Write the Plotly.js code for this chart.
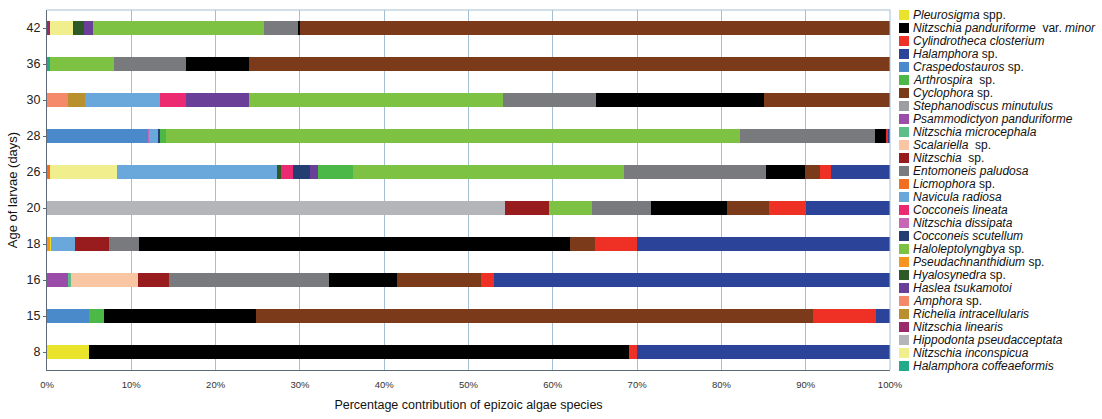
<!DOCTYPE html>
<html>
<head>
<meta charset="utf-8">
<script src="https://cdn.plot.ly/plotly-3.0.1.min.js"></script>
<style>html,body{margin:0;padding:0;background:#fff;}#chart{width:1102px;height:419px;}</style>
</head>
<body>
<div id="chart"></div>
<script>
// Ages of larvae (days), bottom to top
const ages = ['8', '15', '16', '18', '20', '26', '28', '30', '36', '42'];

// Percent contribution per species, in the order of ages above
const pleurosigma       = [4.95, 0, 0, 0.2, 0, 0, 0, 0, 0, 0];
const nPanduriforme     = [64.05, 18.05, 8.0, 51.05, 9.05, 4.6, 1.3, 20.0, 7.55, 0.2];
const cylindrotheca     = [1.0, 7.5, 1.5, 4.95, 4.35, 1.3, 0.3, 0, 0, 0];
const halamphora        = [30.0, 1.65, 47.0, 30.0, 9.95, 7.0, 0.2, 0, 0, 0];
const craspedostauros   = [0, 4.95, 0, 0, 0, 0, 12.0, 0, 0, 0];
const arthrospira       = [0, 1.8, 0, 0, 0, 4.15, 0.7, 0, 0, 0];
const cyclophora        = [0, 66.05, 10.0, 3.05, 5.0, 1.8, 0, 14.9, 76.0, 70.0];
const stephanodiscus    = [0, 0, 0, 0, 0, 0, 0, 0, 0, 0];
const psammodictyon     = [0, 0, 2.45, 0, 0, 0, 0, 0, 0, 0];
const nMicrocephala     = [0, 0, 0.45, 0, 0, 0, 0, 0, 0, 0];
const scalariella       = [0, 0, 7.95, 0, 0, 0, 0, 0, 0, 0];
const nitzschiaSp       = [0, 0, 3.65, 4.1, 5.25, 0, 0, 0, 0, 0];
const entomoneis        = [0, 0, 19.0, 3.55, 7.0, 16.9, 16.0, 11.0, 8.45, 4.0];
const licmophora        = [0, 0, 0, 0, 0, 0.3, 0, 0, 0, 0];
const navicula          = [0, 0, 0, 2.8, 0, 19.05, 1.05, 9.0, 0, 0];
const cLineata          = [0, 0, 0, 0, 0, 1.5, 0, 3.05, 0, 0];
const nDissipata        = [0, 0, 0, 0, 0, 0, 0.15, 0, 0, 0];
const cScutellum        = [0, 0, 0, 0, 0, 1.95, 0.2, 0, 0, 0];
const haloleptolyngbya  = [0, 0, 0, 0, 5.05, 32.1, 68.1, 30.1, 7.7, 20.35];
const pseudachnanthidium= [0, 0, 0, 0.3, 0, 0, 0, 0, 0, 0];
const hyalosynedra      = [0, 0, 0, 0, 0, 0.4, 0, 0, 0, 1.3];
const haslea            = [0, 0, 0, 0, 0, 1.0, 0, 7.5, 0, 1.05];
const amphora           = [0, 0, 0, 0, 0, 0, 0, 2.5, 0, 0];
const richelia          = [0, 0, 0, 0, 0, 0, 0, 1.95, 0, 0];
const nLinearis         = [0, 0, 0, 0, 0, 0, 0, 0, 0, 0.3];
const hippodonta        = [0, 0, 0, 0, 54.35, 0, 0, 0, 0, 0];
const nInconspicua      = [0, 0, 0, 0, 0, 7.95, 0, 0, 0, 2.8];
const hCoffeaeformis    = [0, 0, 0, 0, 0, 0, 0, 0, 0.3, 0];

// Legend order (top to bottom)
const speciesNames = [
  '<i>Pleurosigma</i> spp.',
  '<i>Nitzschia panduriforme</i>  var. <i>minor</i>',
  '<i>Cylindrotheca closterium</i>',
  '<i>Halamphora</i> sp.',
  '<i>Craspedostauros</i> sp.',
  '<i>Arthrospira</i>  sp.',
  '<i>Cyclophora</i> sp.',
  '<i>Stephanodiscus minutulus</i>',
  '<i>Psammodictyon panduriforme</i>',
  '<i>Nitzschia microcephala</i>',
  '<i>Scalariella</i>  sp.',
  '<i>Nitzschia</i>  sp.',
  '<i>Entomoneis paludosa</i>',
  '<i>Licmophora</i> sp.',
  '<i>Navicula radiosa</i>',
  '<i>Cocconeis lineata</i>',
  '<i>Nitzschia dissipata</i>',
  '<i>Cocconeis scutellum</i>',
  '<i>Haloleptolyngbya</i> sp.',
  '<i>Pseudachnanthidium</i> sp.',
  '<i>Hyalosynedra</i> sp.',
  '<i>Haslea tsukamotoi</i>',
  '<i>Amphora</i> sp.',
  '<i>Richelia intracellularis</i>',
  '<i>Nitzschia linearis</i>',
  '<i>Hippodonta pseudacceptata</i>',
  '<i>Nitzschia inconspicua</i>',
  '<i>Halamphora coffeaeformis</i>'
];
const speciesValues = [
  pleurosigma, nPanduriforme, cylindrotheca, halamphora, craspedostauros, arthrospira,
  cyclophora, stephanodiscus, psammodictyon, nMicrocephala, scalariella, nitzschiaSp,
  entomoneis, licmophora, navicula, cLineata, nDissipata, cScutellum, haloleptolyngbya,
  pseudachnanthidium, hyalosynedra, haslea, amphora, richelia, nLinearis, hippodonta,
  nInconspicua, hCoffeaeformis
];
const speciesColors = [
  '#e9e32b', '#000000', '#ee3124', '#2b449a', '#4a8acb', '#4cb848',
  '#7b3a1a', '#9c9ea1', '#9b4ba8', '#5cbf8a', '#f8c6a2', '#981b1e',
  '#797a7d', '#f26f21', '#6aa8dc', '#ec2a72', '#c666b5', '#243d73',
  '#7dc242', '#f7941d', '#2d5a27', '#6a3f98', '#f58a6a', '#b8902e',
  '#9b2a6b', '#b3b5b8', '#f1ee8e', '#22a98a'
];

// Stacking order left to right (indices into the legend lists)
const stackOrder = [24, 22, 23, 8, 9, 27, 10, 13, 19, 0, 26, 25, 4, 16, 14, 11,
                    20, 15, 17, 21, 5, 18, 7, 12, 1, 6, 2, 3];

const traces = stackOrder.map(i => ({
  type: 'bar',
  orientation: 'h',
  name: speciesNames[i],
  y: ages,
  x: speciesValues[i],
  marker: {color: speciesColors[i], line: {width: 0}},
  width: 0.4,
  showlegend: false,
  hoverinfo: 'x+name'
}));

// Plot area: 47..890 px horizontally, 10..370 px vertically
const plotL = 47, plotR = 890, plotT = 10, plotB = 370;
const pxX = px => (px - plotL) / (plotR - plotL);
const pxY = py => (plotB - py) / (plotB - plotT);

const shapes = [
  {type: 'line', xref: 'paper', yref: 'paper', x0: 0, x1: 1, y0: 1, y1: 1,
   line: {color: '#a3bfd3', width: 1}},
  {type: 'line', xref: 'paper', yref: 'paper', x0: 1, x1: 1, y0: 0, y1: 1,
   line: {color: '#a3bfd3', width: 1}}
];
const annotations = [];
speciesNames.forEach((name, i) => {
  const cy = 15 + 13 * i;
  shapes.push({
    type: 'rect', xref: 'paper', yref: 'paper',
    x0: pxX(899), x1: pxX(909), y0: pxY(cy + 5), y1: pxY(cy - 5),
    fillcolor: speciesColors[i], line: {width: 0}
  });
  annotations.push({
    xref: 'paper', yref: 'paper', x: pxX(911), y: pxY(cy),
    xanchor: 'left', yanchor: 'middle', showarrow: false,
    text: name, font: {family: 'Liberation Sans, Arial, sans-serif', size: 12, color: '#111'}
  });
});

const layout = {
  width: 1102, height: 419,
  margin: {l: plotL, r: 1102 - plotR, t: plotT, b: 419 - plotB},
  paper_bgcolor: '#ffffff', plot_bgcolor: '#ffffff',
  barmode: 'stack',
  bargap: 0.6,
  showlegend: false,
  font: {family: 'Liberation Sans, Arial, sans-serif', color: '#222'},
  xaxis: {
    range: [0, 100], dtick: 10, tick0: 0, ticksuffix: '%',
    showgrid: true, gridcolor: '#a3bfd3', gridwidth: 1,
    zeroline: false, showline: true, linecolor: '#5e6a75', linewidth: 1,
    ticks: '', ticklabelstandoff: 6, tickfont: {size: 9.5, color: '#333'},
    title: {text: 'Percentage contribution of epizoic algae species', font: {size: 12.5, color: '#111'}, standoff: 10}
  },
  yaxis: {
    type: 'category', categoryorder: 'array', categoryarray: ages,
    showgrid: false, zeroline: false, showline: true, linecolor: '#5e6a75', linewidth: 1,
    ticks: 'outside', ticklen: 3, tickcolor: '#5e6a75',
    tickfont: {size: 12.5, color: '#222'},
    title: {text: 'Age of larvae (days)', font: {size: 13, color: '#111'}, standoff: 6}
  },
  shapes: shapes,
  annotations: annotations
};

Plotly.newPlot('chart', traces, layout, {displayModeBar: false, staticPlot: true});
</script>
</body>
</html>
